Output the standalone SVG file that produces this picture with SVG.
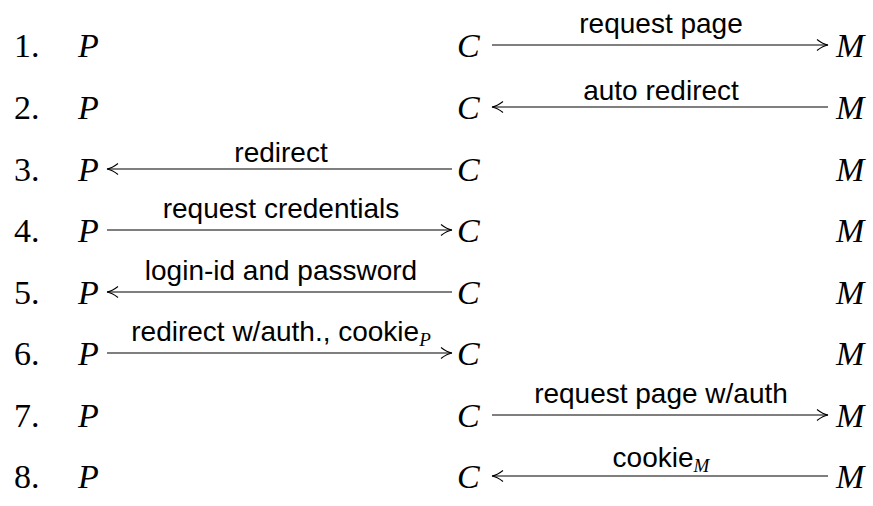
<svg xmlns="http://www.w3.org/2000/svg" width="873" height="506" viewBox="0 0 873 506">
  <style>
    .num { font-family: "Liberation Serif", "DejaVu Serif", serif; font-size: 34px; fill: #000; }
    .var { font-family: "Liberation Serif", "DejaVu Serif", serif; font-style: italic; font-size: 34px; fill: #000; }
    .lbl { font-family: "Liberation Sans", Arial, sans-serif; font-size: 28px; fill: #000; text-anchor: middle; }
    .sub { font-family: "Liberation Serif", serif; font-style: italic; font-size: 19px; }
    .arr { stroke: #000; stroke-width: 1.1; fill: none; marker-end: url(#head); }
  </style>
  <defs>
    <!-- open, curved arrow tip -->
    <marker id="head" markerUnits="userSpaceOnUse" markerWidth="16" markerHeight="16" viewBox="-13 -8 16 16" refX="0" refY="0" orient="auto">
      <path d="M -11 -5.5 Q -5 -0.8 0 0 Q -5 0.8 -11 5.5" stroke="#000" stroke-width="1.1" fill="none"/>
    </marker>
  </defs>

  <!-- step numbers -->
  <g id="steps" class="num">
    <text x="14" y="57">1.</text>
    <text x="14" y="119">2.</text>
    <text x="14" y="181">3.</text>
    <text x="14" y="242">4.</text>
    <text x="14" y="304">5.</text>
    <text x="14" y="365">6.</text>
    <text x="14" y="427">7.</text>
    <text x="14" y="488">8.</text>
  </g>

  <!-- party P -->
  <g id="node-P" class="var">
    <text x="78" y="57">P</text>
    <text x="78" y="119">P</text>
    <text x="78" y="181">P</text>
    <text x="78" y="242">P</text>
    <text x="78" y="304">P</text>
    <text x="78" y="365">P</text>
    <text x="78" y="427">P</text>
    <text x="78" y="488">P</text>
  </g>

  <!-- party C -->
  <g id="node-C" class="var">
    <text x="457" y="57">C</text>
    <text x="457" y="119">C</text>
    <text x="457" y="181">C</text>
    <text x="457" y="242">C</text>
    <text x="457" y="304">C</text>
    <text x="457" y="365">C</text>
    <text x="457" y="427">C</text>
    <text x="457" y="488">C</text>
  </g>

  <!-- party M -->
  <g id="node-M" class="var">
    <text x="836" y="57">M</text>
    <text x="836" y="119">M</text>
    <text x="836" y="181">M</text>
    <text x="836" y="242">M</text>
    <text x="836" y="304">M</text>
    <text x="836" y="365">M</text>
    <text x="836" y="427">M</text>
    <text x="836" y="488">M</text>
  </g>

  <!-- message arrows with their labels -->
  <g id="connectors">
    <line class="arr" x1="492" y1="45" x2="828" y2="45"/>
    <text class="lbl" x="661" y="33">request page</text>

    <line class="arr" x1="828" y1="107" x2="492" y2="107"/>
    <text class="lbl" x="661" y="100">auto redirect</text>

    <line class="arr" x1="452" y1="169" x2="107" y2="169"/>
    <text class="lbl" x="281" y="162">redirect</text>

    <line class="arr" x1="107" y1="230" x2="452" y2="230"/>
    <text class="lbl" x="281" y="218">request credentials</text>

    <line class="arr" x1="452" y1="292" x2="107" y2="292"/>
    <text class="lbl" x="281" y="280">login-id and password</text>

    <line class="arr" x1="107" y1="353" x2="452" y2="353"/>
    <text class="lbl" x="281" y="341">redirect w/auth., cookie<tspan class="sub" dy="5">P</tspan></text>

    <line class="arr" x1="492" y1="415" x2="828" y2="415"/>
    <text class="lbl" x="661" y="403">request page w/auth</text>

    <line class="arr" x1="828" y1="476" x2="492" y2="476"/>
    <text class="lbl" x="661" y="467">cookie<tspan class="sub" dy="5">M</tspan></text>
  </g>
</svg>
